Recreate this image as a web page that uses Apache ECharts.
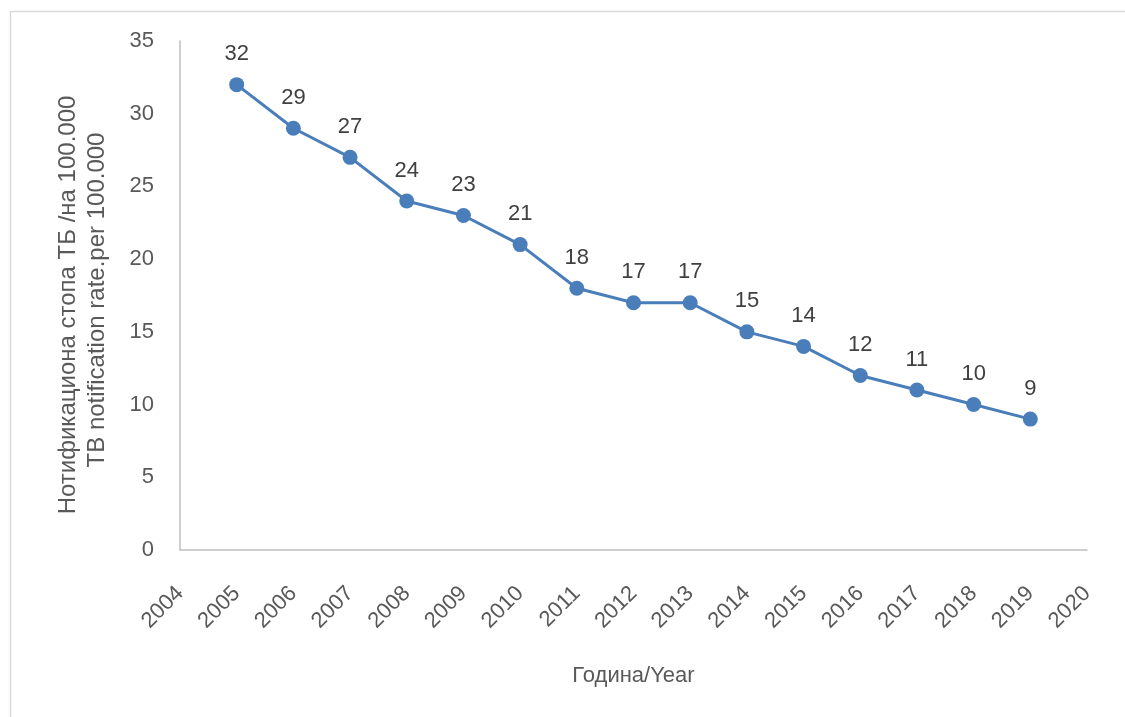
<!DOCTYPE html>
<html><head><meta charset="utf-8">
<script src="https://cdn.jsdelivr.net/npm/echarts@6/dist/echarts.min.js"></script>
<style>html,body{margin:0;padding:0;background:#fff}#c{width:1125px;height:717px}</style>
</head><body><div id="c"></div>
<script>
const years = [2005,2006,2007,2008,2009,2010,2011,2012,2013,2014,2015,2016,2017,2018,2019];
const rates = [32,29,27,24,23,21,18,17,17,15,14,12,11,10,9];
const yTitle1 = 'Нотификациона стопа ТБ /на 100.000';
const yTitle2 = 'TB notification rate.per 100.000';
const xTitle = 'Година/Year';
const FONT = '"Liberation Sans", "Open Sans", sans-serif';
const TXT = '#595959';
const chart = echarts.init(document.getElementById('c'));
chart.setOption({
  animation: false,
  backgroundColor: '#fff',
  grid: {left: 180, right: 38, top: 41, bottom: 167},
  graphic: [
    {type: 'rect', shape: {x: 10.5, y: 11.5, width: 1200, height: 800}, style: {fill: 'none', stroke: '#d9d9d9', lineWidth: 1.5}, silent: true},
    {type: 'text', x: 68, y: 305, rotation: Math.PI/2, style: {text: yTitle1, font: '24px ' + FONT, fill: TXT, align: 'center', verticalAlign: 'middle'}},
    {type: 'text', x: 97, y: 300, rotation: Math.PI/2, style: {text: yTitle2, font: '24px ' + FONT, fill: TXT, align: 'center', verticalAlign: 'middle'}}
  ],
  xAxis: {
    type: 'value', min: 2004, max: 2020, interval: 1,
    name: xTitle, nameLocation: 'middle', nameGap: 115,
    nameTextStyle: {fontSize: 22, color: TXT, fontFamily: FONT},
    axisLine: {lineStyle: {color: '#bfbfbf', width: 1.5}},
    axisTick: {show: false},
    splitLine: {show: false},
    axisLabel: {rotate: 45, margin: 40, fontSize: 22, color: TXT, fontFamily: FONT, formatter: v => String(v)}
  },
  yAxis: {
    type: 'value', min: 0, max: 35, interval: 5,
    axisLine: {show: true, lineStyle: {color: '#bfbfbf', width: 1.5}},
    axisTick: {show: false},
    splitLine: {show: false},
    axisLabel: {margin: 26, fontSize: 22, color: TXT, fontFamily: FONT}
  },
  series: [{
    type: 'line',
    data: years.map((y, i) => [y, rates[i]]),
    symbol: 'circle', symbolSize: 15,
    itemStyle: {color: '#4a7ebb'},
    lineStyle: {color: '#4a7ebb', width: 3},
    label: {show: true, position: 'top', distance: 12, fontSize: 22, color: '#404040', fontFamily: FONT}
  }]
});
</script></body></html>
